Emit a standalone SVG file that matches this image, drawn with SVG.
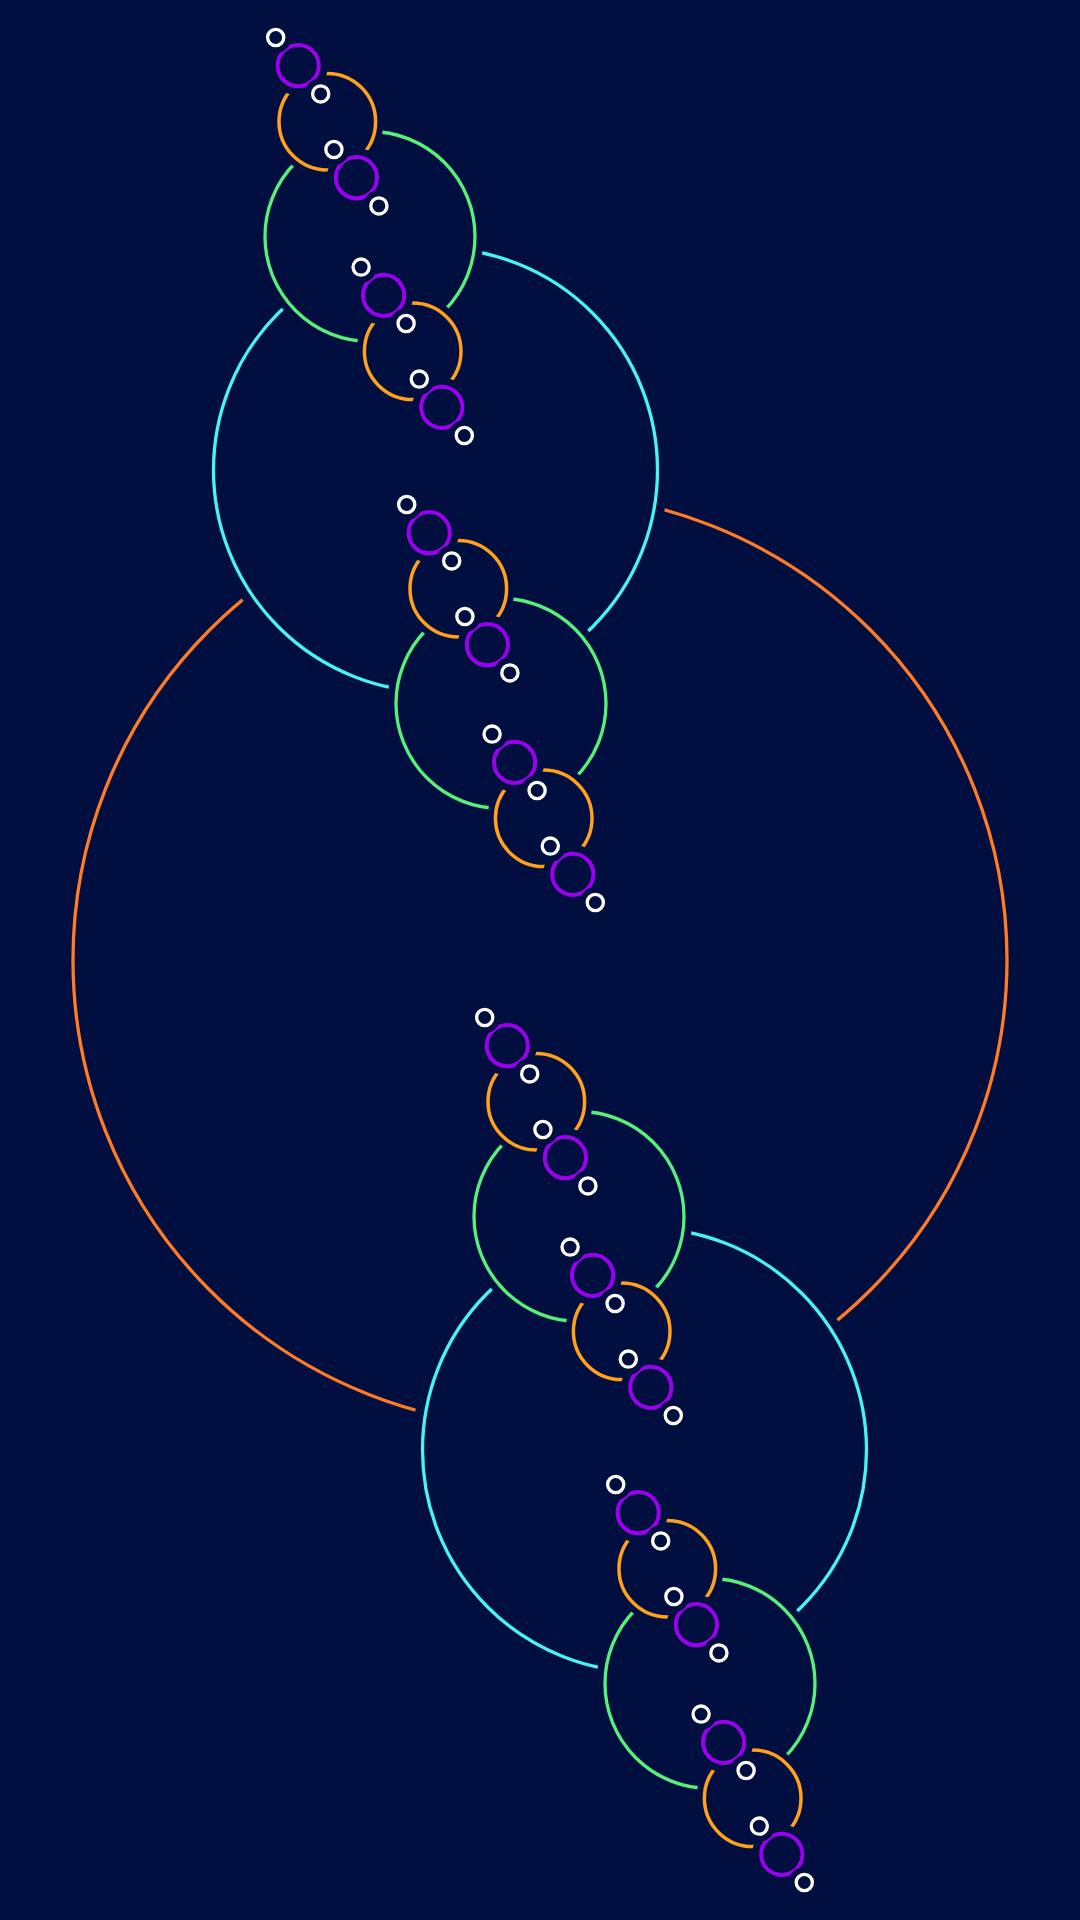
<svg xmlns="http://www.w3.org/2000/svg" width="1080" height="1920" viewBox="0 0 1080 1920">
<style>
.h1,.h2,.h3,.h4,.h5{fill:#000f40;stroke:#000f40}
.c0,.c1,.c2,.c3,.c4,.c5{fill:none}
.c0{stroke:#ff7b25;stroke-width:3.3}
.h1{stroke-width:21}.c1{stroke:#48f5ee;stroke-width:3.3}
.h2{stroke-width:17}.c2{stroke:#58f07a;stroke-width:3.3}
.h3{stroke-width:15.5}.c3{stroke:#ffa11c;stroke-width:3.5}
.h4{stroke-width:18}.c4{stroke:#9900ee;stroke-width:4}
.h5{stroke-width:15}.c5{stroke:#ffffff;stroke-width:3.3}
</style>
<rect width="1080" height="1920" fill="#000f40"/>
<g id="n" transform="translate(540,960)"><circle class="c0" r="467"/>
 <g id="n-a" transform="translate(-104.5,-490)"><circle class="h1" r="222"/><circle class="c1" r="222"/>
  <g id="n-aa" transform="translate(-65.5,-233.5)"><circle class="h2" r="105"/><circle class="c2" r="105"/>
   <g id="n-aaa" transform="translate(-42.7,-114.8)"><circle class="h3" r="48.3"/><circle class="c3" r="48.3"/>
    <g id="n-aaaa" transform="translate(-29.1,-56)"><circle class="h4" r="20.6"/><circle class="c4" r="20.6"/>
     <g id="n-aaaaa" transform="translate(-22.5,-28.2)"><circle class="h5" r="8.1"/><circle class="c5" r="8.1"/></g>
     <g id="n-aaaab" transform="translate(22.5,28.2)"><circle class="h5" r="8.1"/><circle class="c5" r="8.1"/></g>
    </g>
    <g id="n-aaab" transform="translate(29.1,56)"><circle class="h4" r="20.6"/><circle class="c4" r="20.6"/>
     <g id="n-aaaba" transform="translate(-22.5,-28.2)"><circle class="h5" r="8.1"/><circle class="c5" r="8.1"/></g>
     <g id="n-aaabb" transform="translate(22.5,28.2)"><circle class="h5" r="8.1"/><circle class="c5" r="8.1"/></g>
    </g>
   </g>
   <g id="n-aab" transform="translate(42.7,114.8)"><circle class="h3" r="48.3"/><circle class="c3" r="48.3"/>
    <g id="n-aaba" transform="translate(-29.1,-56)"><circle class="h4" r="20.6"/><circle class="c4" r="20.6"/>
     <g id="n-aabaa" transform="translate(-22.5,-28.2)"><circle class="h5" r="8.1"/><circle class="c5" r="8.1"/></g>
     <g id="n-aabab" transform="translate(22.5,28.2)"><circle class="h5" r="8.1"/><circle class="c5" r="8.1"/></g>
    </g>
    <g id="n-aabb" transform="translate(29.1,56)"><circle class="h4" r="20.6"/><circle class="c4" r="20.6"/>
     <g id="n-aabba" transform="translate(-22.5,-28.2)"><circle class="h5" r="8.1"/><circle class="c5" r="8.1"/></g>
     <g id="n-aabbb" transform="translate(22.5,28.2)"><circle class="h5" r="8.1"/><circle class="c5" r="8.1"/></g>
    </g>
   </g>
  </g>
  <g id="n-ab" transform="translate(65.5,233.5)"><circle class="h2" r="105"/><circle class="c2" r="105"/>
   <g id="n-aba" transform="translate(-42.7,-114.8)"><circle class="h3" r="48.3"/><circle class="c3" r="48.3"/>
    <g id="n-abaa" transform="translate(-29.1,-56)"><circle class="h4" r="20.6"/><circle class="c4" r="20.6"/>
     <g id="n-abaaa" transform="translate(-22.5,-28.2)"><circle class="h5" r="8.1"/><circle class="c5" r="8.1"/></g>
     <g id="n-abaab" transform="translate(22.5,28.2)"><circle class="h5" r="8.1"/><circle class="c5" r="8.1"/></g>
    </g>
    <g id="n-abab" transform="translate(29.1,56)"><circle class="h4" r="20.6"/><circle class="c4" r="20.6"/>
     <g id="n-ababa" transform="translate(-22.5,-28.2)"><circle class="h5" r="8.1"/><circle class="c5" r="8.1"/></g>
     <g id="n-ababb" transform="translate(22.5,28.2)"><circle class="h5" r="8.1"/><circle class="c5" r="8.1"/></g>
    </g>
   </g>
   <g id="n-abb" transform="translate(42.7,114.8)"><circle class="h3" r="48.3"/><circle class="c3" r="48.3"/>
    <g id="n-abba" transform="translate(-29.1,-56)"><circle class="h4" r="20.6"/><circle class="c4" r="20.6"/>
     <g id="n-abbaa" transform="translate(-22.5,-28.2)"><circle class="h5" r="8.1"/><circle class="c5" r="8.1"/></g>
     <g id="n-abbab" transform="translate(22.5,28.2)"><circle class="h5" r="8.1"/><circle class="c5" r="8.1"/></g>
    </g>
    <g id="n-abbb" transform="translate(29.1,56)"><circle class="h4" r="20.6"/><circle class="c4" r="20.6"/>
     <g id="n-abbba" transform="translate(-22.5,-28.2)"><circle class="h5" r="8.1"/><circle class="c5" r="8.1"/></g>
     <g id="n-abbbb" transform="translate(22.5,28.2)"><circle class="h5" r="8.1"/><circle class="c5" r="8.1"/></g>
    </g>
   </g>
  </g>
 </g>
 <g id="n-b" transform="translate(104.5,490)"><circle class="h1" r="222"/><circle class="c1" r="222"/>
  <g id="n-ba" transform="translate(-65.5,-233.5)"><circle class="h2" r="105"/><circle class="c2" r="105"/>
   <g id="n-baa" transform="translate(-42.7,-114.8)"><circle class="h3" r="48.3"/><circle class="c3" r="48.3"/>
    <g id="n-baaa" transform="translate(-29.1,-56)"><circle class="h4" r="20.6"/><circle class="c4" r="20.6"/>
     <g id="n-baaaa" transform="translate(-22.5,-28.2)"><circle class="h5" r="8.1"/><circle class="c5" r="8.1"/></g>
     <g id="n-baaab" transform="translate(22.5,28.2)"><circle class="h5" r="8.1"/><circle class="c5" r="8.1"/></g>
    </g>
    <g id="n-baab" transform="translate(29.1,56)"><circle class="h4" r="20.6"/><circle class="c4" r="20.6"/>
     <g id="n-baaba" transform="translate(-22.5,-28.2)"><circle class="h5" r="8.1"/><circle class="c5" r="8.1"/></g>
     <g id="n-baabb" transform="translate(22.5,28.2)"><circle class="h5" r="8.1"/><circle class="c5" r="8.1"/></g>
    </g>
   </g>
   <g id="n-bab" transform="translate(42.7,114.8)"><circle class="h3" r="48.3"/><circle class="c3" r="48.3"/>
    <g id="n-baba" transform="translate(-29.1,-56)"><circle class="h4" r="20.6"/><circle class="c4" r="20.6"/>
     <g id="n-babaa" transform="translate(-22.5,-28.2)"><circle class="h5" r="8.1"/><circle class="c5" r="8.1"/></g>
     <g id="n-babab" transform="translate(22.5,28.2)"><circle class="h5" r="8.1"/><circle class="c5" r="8.1"/></g>
    </g>
    <g id="n-babb" transform="translate(29.1,56)"><circle class="h4" r="20.6"/><circle class="c4" r="20.6"/>
     <g id="n-babba" transform="translate(-22.5,-28.2)"><circle class="h5" r="8.1"/><circle class="c5" r="8.1"/></g>
     <g id="n-babbb" transform="translate(22.5,28.2)"><circle class="h5" r="8.1"/><circle class="c5" r="8.1"/></g>
    </g>
   </g>
  </g>
  <g id="n-bb" transform="translate(65.5,233.5)"><circle class="h2" r="105"/><circle class="c2" r="105"/>
   <g id="n-bba" transform="translate(-42.7,-114.8)"><circle class="h3" r="48.3"/><circle class="c3" r="48.3"/>
    <g id="n-bbaa" transform="translate(-29.1,-56)"><circle class="h4" r="20.6"/><circle class="c4" r="20.6"/>
     <g id="n-bbaaa" transform="translate(-22.5,-28.2)"><circle class="h5" r="8.1"/><circle class="c5" r="8.1"/></g>
     <g id="n-bbaab" transform="translate(22.5,28.2)"><circle class="h5" r="8.1"/><circle class="c5" r="8.1"/></g>
    </g>
    <g id="n-bbab" transform="translate(29.1,56)"><circle class="h4" r="20.6"/><circle class="c4" r="20.6"/>
     <g id="n-bbaba" transform="translate(-22.5,-28.2)"><circle class="h5" r="8.1"/><circle class="c5" r="8.1"/></g>
     <g id="n-bbabb" transform="translate(22.5,28.2)"><circle class="h5" r="8.1"/><circle class="c5" r="8.1"/></g>
    </g>
   </g>
   <g id="n-bbb" transform="translate(42.7,114.8)"><circle class="h3" r="48.3"/><circle class="c3" r="48.3"/>
    <g id="n-bbba" transform="translate(-29.1,-56)"><circle class="h4" r="20.6"/><circle class="c4" r="20.6"/>
     <g id="n-bbbaa" transform="translate(-22.5,-28.2)"><circle class="h5" r="8.1"/><circle class="c5" r="8.1"/></g>
     <g id="n-bbbab" transform="translate(22.5,28.2)"><circle class="h5" r="8.1"/><circle class="c5" r="8.1"/></g>
    </g>
    <g id="n-bbbb" transform="translate(29.1,56)"><circle class="h4" r="20.6"/><circle class="c4" r="20.6"/>
     <g id="n-bbbba" transform="translate(-22.5,-28.2)"><circle class="h5" r="8.1"/><circle class="c5" r="8.1"/></g>
     <g id="n-bbbbb" transform="translate(22.5,28.2)"><circle class="h5" r="8.1"/><circle class="c5" r="8.1"/></g>
    </g>
   </g>
  </g>
 </g>
</g>
</svg>
